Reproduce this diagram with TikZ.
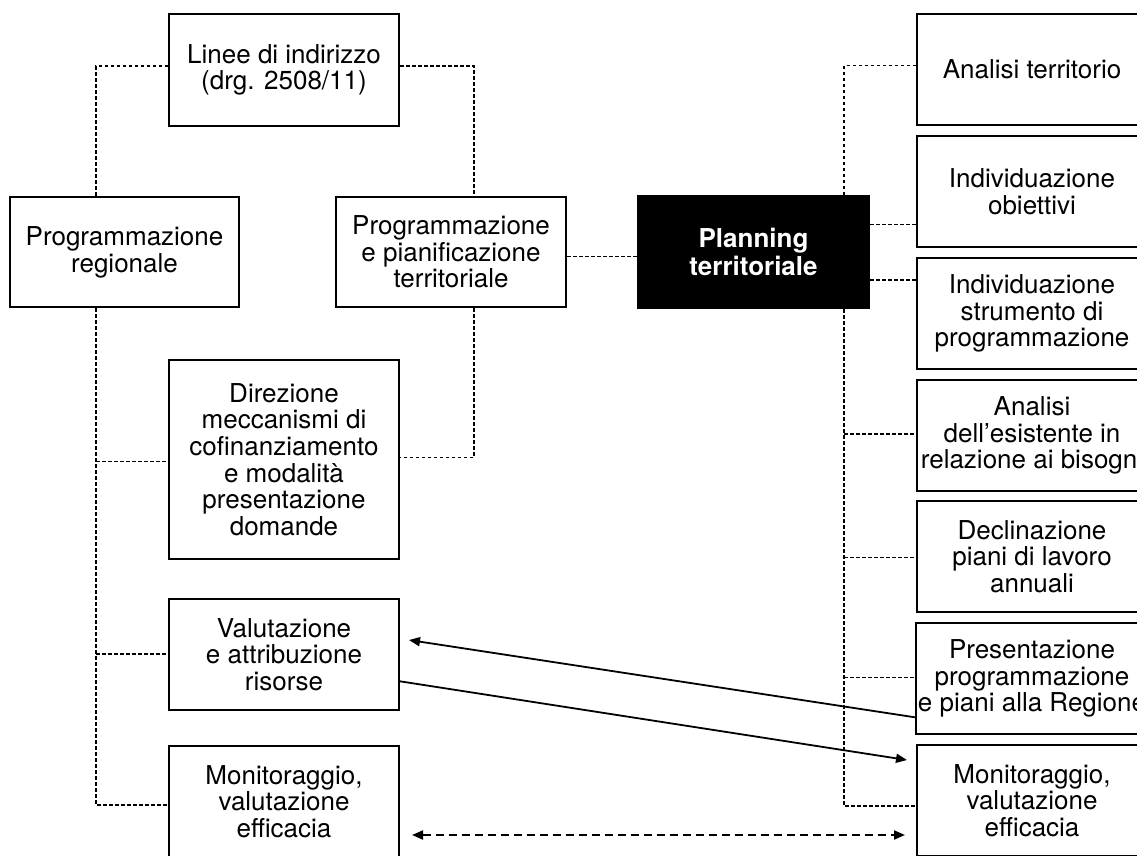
\documentclass[tikz,border=0pt]{standalone}
\usepackage{fontspec}
\setmainfont{TeX Gyre Heros}
\usetikzlibrary{arrows.meta,calc}
\tikzset{
  box/.style={draw, line width=2pt, rectangle, minimum width=230pt, minimum height=111pt,
    inner sep=2pt, align=center, font=\fontsize{26}{26.7}\selectfont},
  blackbox/.style={box, fill=black, text=white, font=\fontsize{26}{28}\selectfont\bfseries},
  dl/.style={line width=1.1pt, dash pattern=on 3.5pt off 2.5pt},
  arr/.style={line width=1.8pt, -{Triangle[length=11pt,width=9pt]}},
  darr/.style={line width=2pt, dash pattern=on 8pt off 5pt, {Triangle[length=11pt,width=9pt]}-{Triangle[length=11pt,width=9pt]}}
}
\begin{document}
\begin{tikzpicture}[x=1pt,y=-1pt]
\useasboundingbox (0,0) rectangle (1137,855);
\clip (0,0) rectangle (1137,855);
% left side
\node[box, minimum height=112pt] (linee) at (284,70) {Linee di indirizzo\\(drg. 2508/11)};
\node[box, minimum width=229pt, minimum height=110pt] (progreg) at (124.5,252) {Programmazione\\regionale};
\node[box, minimum height=110pt] (progpian) at (451,252) {Programmazione\\e pianificazione\\territoriale};
\node[blackbox, minimum width=231pt, minimum height=112pt] (plan) at (753.5,252) {Planning\\territoriale};
\node[box, minimum height=199pt] (dir) at (284,459.5) {Direzione\\meccanismi di\\cofinanziamento\\e modalità\\presentazione\\domande};
\node[box] (val) at (284,654.5) {Valutazione\\e attribuzione\\risorse};
\node[box] (monL) at (284,801.5) {Monitoraggio,\\valutazione\\efficacia};
% right column
\node[box] (r1) at (1032,69.5) {Analisi territorio};
\node[box] (r2) at (1032,191.5) {Individuazione\\obiettivi};
\node[box] (r3) at (1032,313.5) {Individuazione\\strumento di\\programmazione};
\node[box] (r4) at (1032,435.5) {Analisi\\dell’esistente in\\relazione ai bisogni};
\node[box] (r5) at (1032,556.5) {Declinazione\\piani di lavoro\\annuali};
\node[box] (r6) at (1032,678.5) {Presentazione\\programmazione\\e piani alla Regione};
\node[box] (r7) at (1032,800.5) {Monitoraggio,\\valutazione\\efficacia};
% dashed connectors left
\draw[dl] (linee.west |- 0,66) -| (progreg.north -| 96,0);
\draw[dl] (linee.east |- 0,66) -| (progpian.north -| 474,0);
\draw[dl] (progreg.south -| 96,0) |- (monL.west |- 0,805);
\coordinate (lb1) at (96,461.7);
\coordinate (lb2) at (96,654);
\draw[dl] (lb1) -- (dir.west |- lb1);
\draw[dl] (lb2) -- (val.west |- lb2);
\draw[dl] (progpian.south -| 474,0) |- (dir.east |- 0,457.3);
\draw[dl] (progpian.east |- 0,256.3) -- (plan.west |- 0,256.3);
% dashed connectors right
\draw[dl] (plan.north -| 844,0) |- (r1.west |- 0,65.5);
\draw[dl] (plan.east |- 0,224.5) -- (r2.west |- 0,224.5);
\draw[dl] (plan.east |- 0,280) -- (r3.west |- 0,280);
\draw[dl] (plan.south -| 844,0) |- (r7.west |- 0,806);
\coordinate (rb4) at (844,434);
\coordinate (rb5) at (844,557.7);
\coordinate (rb6) at (844,677.7);
\draw[dl] (rb4) -- (r4.west |- rb4);
\draw[dl] (rb5) -- (r5.west |- rb5);
\draw[dl] (rb6) -- (r6.west |- rb6);
% solid arrows
\draw[arr] (r6.west |- 0,717.3) -- ($(val.east)+(9,-14.5)$);
\draw[arr] (val.east |- 0,681.3) -- ($(r7.west)+(-9,-40.5)$);
% dashed double arrow
\draw[darr] ($(monL.east)+(12,33.5)$) -- ($(r7.west)+(-11,34.5)$);
\end{tikzpicture}
\end{document}
